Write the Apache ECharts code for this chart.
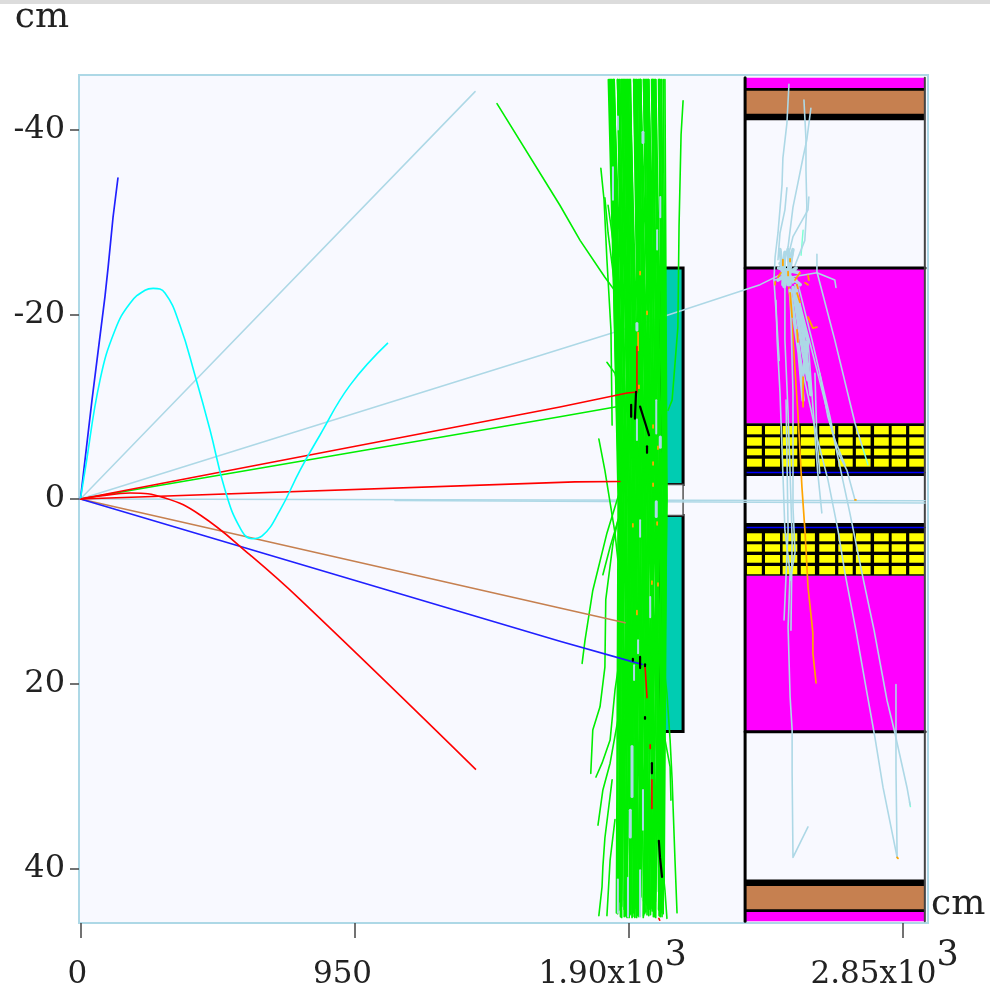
<!DOCTYPE html>
<html>
<head>
<meta charset="utf-8">
<style>html,body{margin:0;padding:0;background:#fff}#c{width:990px;height:990px}</style>
<script src="https://cdn.jsdelivr.net/npm/echarts@6/dist/echarts.min.js"></script>
</head>
<body>
<div id="c"></div>
<script>
// ---- axes ----
const xTicks = [0, 950, 1900, 2850];
const yTicks = [-40, -20, 0, 20, 40];
const xTickLabels = ['0', '950', '1.90x10', '2.85x10'];
const xTickPowers = ['', '', '3', '3'];

// ---- detector bands: [xStart, xEnd, yStart, yEnd] in cm ----
const magentaBands = [[2304,2928,-45.6,-44.5],[2304,2928,-25.0,-8.2],[2304,2928,8.3,25.2],[2304,2928,44.7,45.7]];
const blackBands = [[2304,2928,-44.5,-41.0],[2304,2928,41.2,44.7],[2304,2928,-8.2,-2.5],[2304,2928,2.6,8.3]];
const brownBands = [[2304,2928,-44.2,-41.7],[2304,2928,41.9,44.4]];
const tealBlocks = [[2010,2089,-25.0,-1.57],[2010,2089,1.79,25.17]];
const gapBlocks = [[2010,2089,-1.57,1.79]];
const cellXEdges = [[2310,2362],[2373,2425],[2434,2485],[2497,2546],[2561,2616],[2627,2677],[2688,2739],[2751,2802],[2812,2862],[2873,2925]];
const cellYEdges = [[-7.9,-7.0],[-6.68,-5.77],[-5.45,-4.73],[-4.36,-3.5],[3.71,4.58],[4.9,5.7],[6.06,6.9],[7.25,8.15]];
const frameLines = [[[2304,-45.6],[2304,45.7]]];
const frameRight = [[[2927,-45.6],[2927,45.7]]];
const blueStrips = [[[2304,-2.87],[2928,-2.87]],[[2304,3.08],[2928,3.08]]];
const bandEdges = [[[2304,-25.0],[2928,-25.0]],[[2304,25.2],[2928,25.2]]];

// ---- tracks from the origin ----
const blueTracks = [
  [[0,0],[40,-10.7],[85,-21.9],[96,-25.1],[113,-30.5],[130,-34.75]],
  [[0,0],[1662,15.4],[1912,17.6],[1947,17.9]]
];
const redTracks = [
  [[0,0],[1662,-9.96],[1895,-11.47],[1929,-11.58],[1929,-16.5]],
  [[0,0],[1714,-1.85],[1870,-1.9]],
  [[1957,18],[1964,21.5]],[[1981,30.4],[1981,33.5]],[[1975,26.6],[1975,27]],[[2005,45.4],[2008,45.6]]
];
const redCurve = [[0,0],[68,-0.32],[172,-0.65],[293,-0.11],[415,1.73],[588,6.06],[762,10.9],[1371,29.3]];
const brownTracks = [[[0,0],[1662,11.8],[1888,13.4]]];
const cyanCurve = [[0,0],[16,-3.1],[68,-12.9],[120,-18.3],[172,-21.2],[224,-22.6],[252,-22.8],[293,-22.3],[345,-18.8],[397,-13.4],[449,-7.5],[501,-1.0],[553,3.1],[595,4.3],[630,4.0],[692,1.2],[761,-3.1],[830,-6.9],[934,-12.3],[1066,-16.9]];
const lightBlueLong = [
  [[0,0],[1368,-44.1]],
  [[0,0],[1929,-18.8],[2356,-23.2],[2460,-24.8]],
  [[0,0],[2928,0.18]],
  [[1090,0.16],[2183,0.33],[2928,0.43]]
];
const blackBits = [[[1926,-11.6],[1922,-8.7]],[[1909,-10.2],[1909,-8.9]],[[1940,-10],[1971,-6.9]],[[1964,-5.7],[1964,-5]],[[1940,17.1],[1940,18.3]],[[1957,17.9],[1957,18.1]],[[1957,23.6],[1957,23.8]],[[1981,28.6],[1981,29.7]],[[2005,37],[2009,38.8],[2016,40.9]],[[1915,17.3],[1915,17.5]]];

// ---- dense green band: x where each track crosses the top, the middle, and its end at the bottom ----
const greenTopX = [1834,1830,1840,1836,1845,1838,1850,1842,1850,1862,1848,1866,1862,1870,1862,1876,1848,1880,1868,1886,1874,1878,1890,1884,1894,1882,1900,1888,1906,1896,1892,1906,1904,1898,1918,1904,1924,1918,1920,1930,1920,1936,1926,1918,1942,1934,1928,1942,1940,1954,1938,1952,1960,1952,1966,1941,1958,1970,1964,1980,1956,1970,1984,1982,1962,1990,1982,1994,1968,1988,2004,1994,2008,1986,2006,2014,2006,2020,2012,2026];
const greenMidX = [1864,1867,1868,1871,1873,1876,1877,1881,1882,1884,1888,1889,1892,1893,1895,1899,1900,1903,1904,1908,1909,1910,1914,1915,1917,1921,1922,1923,1927,1928,1932,1933,1934,1938,1939,1943,1944,1945,1949,1950,1954,1955,1956,1960,1961,1965,1966,1967,1971,1972,1976,1977,1978,1982,1983,1987,1988,1989,1993,1994,1998,1999,2000,2004,2005,2009,2010,2011,2015,2016,2020,2021,2022,2026,2027,2029,2030,2031,2032,2033];
const greenBottomX = [1858,1872,1861,1876,1866,1890,1870,1862,1885,1876,1895,1868,1905,1885,1874,1904,1888,1912,1875,1893,1886,1918,1892,1904,1926,1902,1910,1934,1905,1920,1942,1908,1928,1916,1952,1924,1938,1914,1958,1932,1940,1922,1966,1940,1930,1954,1974,1936,1962,1951,1982,1942,1970,1956,1990,1952,1978,1964,2004,1960,1986,1972,2006,1968,1994,1980,2012,1976,2005,1988,2016,1984,2008,1993,2020,1992,2010,2004,2023,2014];
const greenBottomY = [44.8,45.2,43.9,45.3,44.5,45.1,43.2,44.9,45.2,44.1,45.3,43.6,45,44.4,45.2,42.9,44.7,45.3,44,45.1,43.4,44.8,45.2,42.6,44.3,45.3,43.8,45,44.6,45.2,43.1,44.9,45.3,44.2,45.1,42.4,44.7,45.2,43.7,45,44.5,45.3,43.3,44.8,45.1,42.8,44.4,45.2,43.9,45.3,44.6,43,45.1,44.9,45.2,43.5,44.3,45,42.5,44.7,45.2,43.8,45.1,44.2,45.3,43.2,44.8,45,44.5,42.7,45.2,44,45.1,43.6,44.9,43.1,45.2,44.4,42.2,44.7];
const greenTopY = -45.4;

const greenSparse = [
  [[0,0],[1662,-8.9],[1898,-10.2]],
  [[1444,-42.8],[1662,-31.8],[1732,-28],[1818,-24],[1863,-22.1]],
  [[2089,-43.1],[2082,-39.4],[2075,-29.5],[2071,-18.6],[2051,-10.7],[2037,-9.6]],
  [[1804,-35.8],[1815,-32.4],[1825,-25.9],[1839,-18.3],[1843,-8]],
  [[1818,-32.6],[1829,-28.8],[1853,-22.9]],
  [[1829,-31.8],[1860,-24.8]],
  [[1825,-14.8],[1853,-13.6],[1871,-11]],
  [[1797,-6.5],[1818,-3.1],[1836,0.4],[1853,3.7],[1863,6.6]],
  [[1878,-1.7],[1825,3.7],[1776,9.9],[1749,15.3],[1739,17.8]],
  [[1882,0.4],[1836,5.2],[1811,8.2]],
  [[1863,2.3],[1846,4.8],[1821,10.9],[1818,18.2],[1801,22.5],[1776,25],[1769,29.7]],
  [[1878,15.3],[1853,20.7],[1836,26.1],[1808,28.6],[1787,30.1]],
  [[1863,23.9],[1836,28.6],[1811,31.5],[1794,35.3]],
  [[1843,30.4],[1818,36.7],[1811,39.8],[1808,42],[1797,45.1]],
  [[1853,34.7],[1836,39.1],[1825,45.1]],
  [[2020,17.4],[2033,21],[2044,26.1],[2051,30.4],[2061,39.1],[2068,44.8]],
  [[2020,25],[2044,29],[2047,32.6]],
  [[2009,37.2],[2026,42.3],[2033,45.4]]
];

// ---- light-blue pieces seen in the gaps of the green band ----
const bandBlueWide = [[[1912,26.8],[1912,32.2]],[[1906,33.7],[1906,36.6]],[[1950,-39.7],[1950,-38.6]],[[1929,-19],[1929,-18.3]],[[2010,-6.7],[2010,-5.6]],[[1996,0.3],[1996,1.9]]];
const bandBlueThin = [[[1950,31.5],[1950,35.8]],[[1863,41.2],[1863,44.8]],[[1898,41],[1898,45.2]],[[1940,40.2],[1940,45.2]],[[1863,-41.4],[1863,-40]],[[1846,-35.9],[1846,-32.4]],[[2010,-32.7],[2010,-30.5]],[[1999,-29.1],[1999,-27]],[[1929,-8.6],[1929,-6.4]],[[1996,-10.7],[1996,-7.1]],[[1975,10.6],[1975,12.8]],[[1940,2.3],[1940,4.1]],[[1933,15.3],[1933,16.7]],[[1919,18],[1919,19.6]]];

// ---- shower in the right-hand detector ----
const showerTracks = [
  [[2456,-44.9],[2449,-40.7],[2435,-36.9],[2432,-34],[2418,-28.8],[2408,-26.2],[2404,-23.7],[2415,-18.6],[2422,-15]],
  [[2508,-43.2],[2515,-38.9],[2515,-35.6],[2518,-31.6],[2511,-28],[2477,-25.3]],
  [[2532,-42.3],[2518,-38.9],[2505,-37],[2487,-34.2],[2470,-31.6],[2453,-27.3],[2435,-25.1]],
  [[2525,-32.7],[2522,-31.3],[2470,-28.4],[2456,-26.6]],
  [[2449,-33.7],[2442,-31.3],[2425,-28.8],[2418,-25.9]],
  [[2553,-26.5],[2553,-24.6],[2615,-17.2],[2685,-8.2],[2709,-5.8]],
  [[2404,-23.7],[2553,-24.5],[2615,-23.7],[2619,-22.9]],
  [[2411,-21.5],[2415,-17.2],[2425,-11.5],[2435,-2.8],[2442,3.4],[2460,8],[2453,13.9],[2460,21.4],[2467,25],[2467,29.7],[2470,38.8],[2522,35.5]],
  [[2442,-23.2],[2442,-17.2],[2453,-9.3],[2460,-2.8],[2467,4.4],[2463,14.2]],
  [[2460,-22.6],[2470,-11.5],[2470,0.9],[2477,5.8],[2460,8.8]],
  [[2477,-23.2],[2522,-17.2],[2539,-10],[2556,-2.8],[2570,1.5]],
  [[2484,-23.7],[2536,-17.2],[2598,-8.9],[2622,-5.3],[2657,-3.1],[2685,0.1]],
  [[2460,-22.6],[2505,-13.6],[2553,-6.7],[2591,-2.1],[2626,3.4],[2650,8],[2688,14.2],[2723,20.4],[2754,25.8],[2782,31.2],[2831,38.8]],
  [[2477,-23.2],[2556,-13.6],[2608,-7.1],[2667,1.5],[2709,8],[2751,14.2],[2796,21.8],[2823,25.3],[2865,31.2],[2876,33.1]],
  [[2827,20.1],[2827,29.3],[2831,38.8]],
  [[2546,-13.6],[2553,-6.4],[2563,-2.8]],
  [[2446,-10.7],[2453,3.4],[2439,13.1]],
  [[2563,-13.6],[2591,-8.9],[2615,-6.4],[2650,-3.7]]
];
const showerCore = [
  [[2442,-26.7],[2435,-23.2]],[[2453,-27],[2460,-23.2]],[[2467,-26.7],[2453,-23.2]],
  [[2418,-23.7],[2481,-25]],[[2432,-24.8],[2495,-23.2]],[[2425,-25.5],[2470,-23.5]],
  [[2425,-27],[2440,-23]],[[2470,-27],[2440,-23]],[[2420,-25],[2490,-24.5]],
  [[2470,-22.9],[2505,-15.8],[2522,-12.9]],[[2481,-22.9],[2515,-15.8],[2532,-11.3]],
  [[2460,-22.6],[2491,-15.8],[2505,-10.7]],[[2477,-21.5],[2522,-17.2],[2505,-13.6]]
];
const aquaTracks = [[[2709,-5.8],[2730,-3.7]],[[2505,-29.1],[2498,-26.4]],[[2440,-26.5],[2446,-23.8]],[[2874,32.8],[2877,33.3]]];
const orangeMain = [[[2456,-22.9],[2467,-18.6],[2474,-15.4],[2487,-9.3],[2501,-1.3],[2512,3.7],[2522,9.5],[2539,14.5],[2539,16.7],[2550,19.9]]];
const orangeBits = [[[2435,-25.9],[2435,-25.3]],[[2460,-26],[2460,-25.7]],[[2418,-24],[2428,-24.5]],[[2408,-23.5],[2408,-23.2]],[[2453,-24.6],[2453,-24.2]],[[2477,-23.7],[2494,-24.5]],[[2484,-23.2],[2487,-22.8]],[[2522,-24.2],[2525,-23.7]],[[2512,-23.4],[2522,-23.2]],[[2460,-22.3],[2467,-19.7]],[[2484,-22.3],[2494,-21.3]],[[2522,-19.7],[2539,-18.5],[2553,-18.6]],[[2484,-18.3],[2487,-17]],[[2505,-13.2],[2505,-10]],[[2685,0.1],[2688,0.1]],[[2831,38.8],[2834,38.9]],[[1940,-24.6],[1940,-24.3]],[[1964,-20.3],[1964,-20]],[[1933,-18],[1933,-16.1]],[[1936,-12.3],[1936,-12]],[[1985,-8],[1985,-7.7]],[[2002,-5.7],[2002,-5.4]],[[1985,-4],[1985,-3.7]],[[1985,-1.7],[1985,-1.4]],[[1999,2.5],[1999,2.8]],[[1915,2.7],[1915,3]],[[1981,8.9],[1981,9.2]],[[2002,9.1],[2002,9.4]],[[1929,12.1],[1929,12.5]]];

// ---- build ----
const cells = [];
cellYEdges.forEach(r => cellXEdges.forEach(c => cells.push([c[0], c[1], r[0], r[1]])));
const greenBand = greenTopX.map((t, i) => [[t, greenTopY], [greenMidX[i], 0], [greenBottomX[i], greenBottomY[i]]]);

function rects(name, list, fill, stroke, sw) {
  return {
    type: 'custom', name, coordinateSystem: 'cartesian2d', silent: true, animation: false,
    encode: { x: [0, 1], y: [2, 3] }, clip: true, data: list,
    renderItem(p, api) {
      const a = api.coord([api.value(0), api.value(2)]);
      const b = api.coord([api.value(1), api.value(3)]);
      return { type: 'rect', shape: { x: a[0], y: a[1], width: b[0] - a[0], height: b[1] - a[1] },
        style: { fill, stroke: stroke || null, lineWidth: sw || 0 } };
    }
  };
}
function tracks(name, list, color, width) {
  return {
    type: 'lines', name, coordinateSystem: 'cartesian2d', polyline: true, silent: true, animation: false,
    clip: true, lineStyle: { color, width, opacity: 1, cap: 'round', join: 'round' },
    data: list.map(c => ({ coords: c }))
  };
}
function curve(name, pts, color, width) {
  return { type: 'line', name, data: pts, showSymbol: false, symbol: 'none', smooth: 0.45, silent: true,
    animation: false, clip: true, lineStyle: { color, width } };
}

const labelFont = { fontSize: 31, fontFamily: 'DejaVu Serif', color: '#222', verticalAlign: 'bottom' };
const rich = {
  t0: { ...labelFont, padding: [21, 6, 0, 0] },
  t950: { ...labelFont, padding: [21, 24, 0, 0] },
  t1900: { ...labelFont, padding: [21, 0, 0, 0] },
  t2850: { ...labelFont, padding: [21, 0, 0, 0] },
  s1900: { ...labelFont, fontSize: 35, padding: [0, 32, 17, 0] },
  s2850: { ...labelFont, fontSize: 35, padding: [0, 36, 17, 0] }
};

const chart = echarts.init(document.getElementById('c'), null, { renderer: 'canvas' });
chart.setOption({
  animation: false,
  backgroundColor: '#ffffff',
  graphic: [{ type: 'rect', shape: { x: 0, y: 0, width: 990, height: 4 }, style: { fill: '#dcdcdc' }, silent: true }],
  grid: { left: 79, right: 62, top: 75, bottom: 67, outerBoundsMode: 'none', show: true, backgroundColor: '#f8f9ff', borderColor: '#add8e6', borderWidth: 2 },
  xAxis: {
    type: 'value', min: -5, max: 2938, splitLine: { show: false }, axisLine: { show: false, onZero: false },
    name: 'cm', nameLocation: 'end', nameGap: 3, nameMoveOverlap: false,
    nameTextStyle: { fontSize: 36, fontFamily: 'DejaVu Serif', color: '#222', verticalAlign: 'bottom' },
    axisTick: { show: true, customValues: xTicks, length: 15, lineStyle: { color: '#444', width: 1.5 } },
    axisLabel: {
      customValues: xTicks, margin: 15, hideOverlap: false, showMinLabel: true, showMaxLabel: true,
      formatter: v => {
        const i = xTicks.indexOf(v);
        return xTickPowers[i] ? `{t${v}|${xTickLabels[i]}}{s${v}|${xTickPowers[i]}}` : `{t${v}|${xTickLabels[i]}}`;
      },
      rich
    }
  },
  yAxis: {
    type: 'value', min: -45.9, max: 45.9, inverse: true, splitLine: { show: false }, axisLine: { show: false, onZero: false },
    name: 'cm', nameLocation: 'start', nameGap: 39, nameMoveOverlap: false,
    nameTextStyle: { fontSize: 36, fontFamily: 'DejaVu Serif', color: '#222', align: 'center', padding: [0, 74, 0, 0] },
    axisTick: { show: true, customValues: yTicks, length: 9, lineStyle: { color: '#444', width: 1.5 } },
    axisLabel: { customValues: yTicks, margin: 14, fontSize: 32, fontFamily: 'DejaVu Serif', color: '#222', hideOverlap: false, padding: [4, 0, 0, 0] }
  },
  series: [
    rects('magenta', magentaBands, '#ff00ff'),
    rects('black', blackBands, '#000000'),
    rects('brown', brownBands, '#c68050'),
    rects('cells', cells, '#ffff00'),
    rects('teal', tealBlocks, '#00ccb2', '#000000', 3),
    rects('gap', gapBlocks, '#f8f9ff', '#555555', 1.5),
    tracks('blue strips', blueStrips, '#0000ff', 1.6),
    tracks('edges', bandEdges, '#000000', 3),
    tracks('frame', frameLines, '#000000', 3),
    tracks('frame right', frameRight, '#444444', 2),
    tracks('light long', lightBlueLong, '#add8e6', 1.5),
    tracks('green band', greenBand, '#00ee00', 1.7),
    tracks('green sparse', greenSparse, '#00ee00', 1.6),
    tracks('band blue wide', bandBlueWide, '#add8e6', 3),
    tracks('band blue thin', bandBlueThin, '#add8e6', 2),
    tracks('aqua', aquaTracks, '#7fffd4', 1.5),
    tracks('orange main', orangeMain, '#ffa500', 1.7),
    tracks('shower', showerTracks, '#add8e6', 1.6),
    tracks('shower core', showerCore, '#add8e6', 3.5),
    tracks('orange bits', orangeBits, '#ffa500', 1.8),
    tracks('brown track', brownTracks, '#c68050', 1.6),
    curve('cyan', cyanCurve, '#00ffff', 1.6),
    tracks('blue', blueTracks, '#2020ff', 1.7),
    tracks('red', redTracks, '#ff0000', 1.6),
    curve('red curve', redCurve, '#ff0000', 1.6),
    tracks('black bits', blackBits, '#000000', 2.2)
  ]
});
</script>
</body>
</html>
